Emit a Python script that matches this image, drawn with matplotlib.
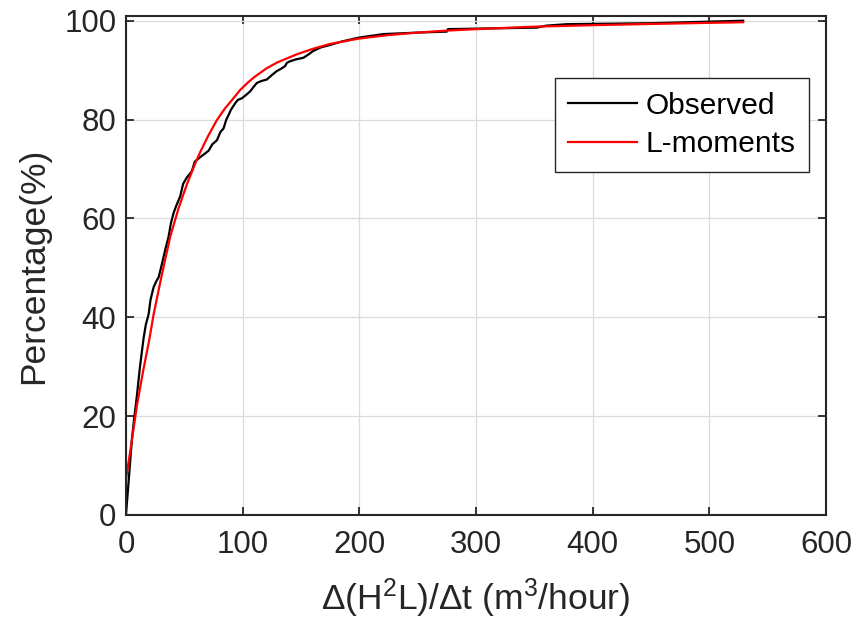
import matplotlib.pyplot as plt
import numpy as np

plt.rcParams['font.family'] = ['Liberation Sans', 'DejaVu Sans']
plt.rcParams['mathtext.fontset'] = 'custom'
plt.rcParams['mathtext.rm'] = 'Liberation Sans'
plt.rcParams['mathtext.default'] = 'rm'

# observed curve
obs_x = [0, 3, 5.1, 7, 9.4, 12, 15.1, 17, 19.4, 21, 23.7, 26, 28, 30, 32.2, 34,
         36.5, 38.5, 40.8, 43, 46.5, 49, 52.2, 54, 56.5, 59, 63.6, 67, 70.8, 74,
         77.9, 81, 83.6, 86, 87.9, 90, 93.6, 96, 99.3, 103, 106.4, 109, 112.1,
         116, 120.7, 125, 129.2, 133, 136.3, 138, 140.7, 146, 152, 156, 160.6,
         167, 174.9, 185, 200, 220.8, 250, 275, 276, 300, 352, 360, 377.7, 450, 529]
obs_y = [0, 9.0, 15.4, 19.5, 24.2, 30.0, 35.8, 38.5, 40.6, 43.5, 46.1, 47.3, 48.1,
         50.0, 52.2, 54.0, 56.3, 59.0, 61.1, 62.5, 64.5, 67.0, 68.3, 68.8, 69.6,
         71.5, 72.4, 73.0, 73.7, 75.0, 75.8, 77.5, 78.2, 80.0, 80.9, 82.0, 83.3,
         84.0, 84.3, 85.0, 85.7, 86.5, 87.4, 87.8, 88.1, 89.0, 89.8, 90.3, 90.8,
         91.5, 91.8, 92.2, 92.5, 93.1, 93.9, 94.6, 95.1, 95.8, 96.6, 97.3, 97.6,
         97.8, 98.3, 98.4, 98.6, 99.0, 99.3, 99.5, 100]

# L-moments fit
fit_x = [0, 5, 9.4, 15, 20, 23.7, 30, 37.9, 45, 52.2, 60, 63.6, 70, 77.9, 85,
         90, 97.9, 105, 110, 120.7, 130, 146.4, 160, 174.9, 200, 225, 250, 275,
         300, 350, 400, 450, 529]
fit_y = [7.2, 15.0, 22.2, 29.5, 35.5, 40.6, 47.8, 56.3, 62.0, 66.9, 71.5, 73.4,
         76.5, 79.9, 82.3, 83.7, 86.0, 87.6, 88.6, 90.4, 91.6, 93.2, 94.3, 95.3,
         96.4, 97.1, 97.6, 98.0, 98.3, 98.8, 99.1, 99.35, 99.7]

fig = plt.figure(figsize=(8.57, 6.24), dpi=100)
ax = fig.add_axes([0.147, 0.1747, 0.8168, 0.800])

ax.plot(obs_x, obs_y, color='black', lw=1.6, label='Observed')
ax.plot(fit_x, fit_y, color='red', lw=1.6, label='L-moments')

ax.set_xlim(0, 600)
ax.set_ylim(0, 101)
ax.set_xticks(np.arange(0, 601, 100))
ax.set_yticks(np.arange(0, 101, 20))
ax.grid(True, color='#dcdcdc', lw=0.9)
ax.set_axisbelow(True)
ax.tick_params(direction='in', length=6, width=1.3, labelsize=22.5, colors='#262626',
               top=True, right=True, pad=7)
ax.tick_params(axis='x', pad=11)
for s in ax.spines.values():
    s.set_linewidth(1.5)
    s.set_color('#262626')

ax.set_xlabel(r'Δ(H$^{2}$L)/Δt (m$^{3}$/hour)', fontsize=25.5, color='#262626', labelpad=12)
ax.set_ylabel('Percentage(%)', fontsize=25.5, color='#262626', labelpad=10)

leg = ax.legend(loc='upper right', bbox_to_anchor=(0.976, 0.875), fontsize=21.5,
                fancybox=False, edgecolor='#262626', framealpha=1,
                handlelength=2.3, borderpad=0.45, labelspacing=0.35, handletextpad=0.3,
                borderaxespad=0)
leg.get_frame().set_linewidth(1.0)

fig.savefig('out.png', dpi=100)
